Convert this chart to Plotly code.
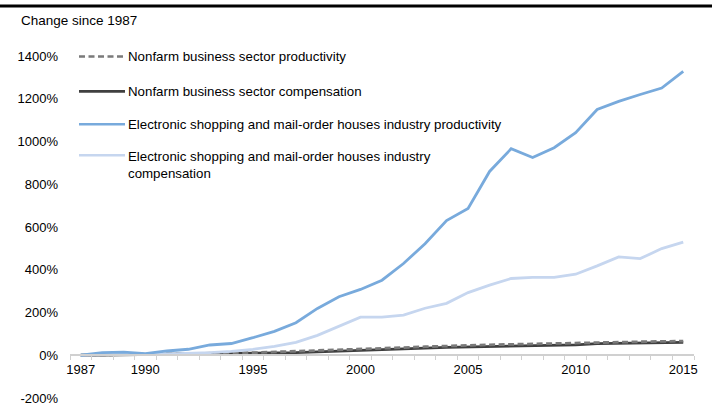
import plotly.graph_objects as go

years = list(range(1987, 2016))
nonfarm_productivity = [0, 2, 3, 4, 5, 8, 9, 11, 12, 15, 18, 21, 25, 28, 31, 36, 40, 44, 47, 49, 51, 53, 55, 60, 62, 63, 64, 65, 66]
nonfarm_compensation = [0, 1, 2, 3, 3, 4, 5, 6, 7, 9, 12, 16, 19, 21, 25, 29, 33, 37, 39, 41, 43, 45, 46, 49, 54, 56, 57, 58, 60]
eshop_productivity = [0, 12, 15, 8, 20, 28, 48, 55, 82, 112, 152, 219, 274, 308, 351, 429, 522, 630, 687, 860, 966, 925, 971, 1041, 1150, 1188, 1220, 1250, 1328]
eshop_compensation = [0, 2, 5, 3, 5, 8, 12, 18, 28, 42, 60, 93, 134, 178, 178, 188, 220, 243, 293, 328, 359, 364, 364, 379, 418, 460, 452, 499, 529]

names = ["Nonfarm business sector productivity",
         "Nonfarm business sector compensation",
         "Electronic shopping and mail-order houses industry productivity",
         "Electronic shopping and mail-order houses industry<br>compensation"]
series = [nonfarm_productivity, nonfarm_compensation, eshop_productivity, eshop_compensation]
colors = ["#7a7a7a", "#3f3f3f", "#78aadc", "#c6d6ef"]
dashes = ["6px,3.5px", "solid", "solid", "solid"]

y_ticks = [-200, 0, 200, 400, 600, 800, 1000, 1200, 1400]
x_ticks = [1987, 1990, 1995, 2000, 2005, 2010, 2015]

FONT = "Liberation Sans, Arial, sans-serif"

fig = go.Figure()
draw_order = [1, 0, 3, 2]
for i in draw_order:
    fig.add_trace(go.Scatter(x=years, y=series[i], mode="lines", name=names[i],
                             line=dict(color=colors[i], width=2.8, dash=dashes[i]),
                             showlegend=False, hoverinfo="skip"))

L, R, T, B = 70, 18, 55.5, 14.5
W, H = 712, 413
pw, ph = W - L - R, H - T - B

def px(x):
    return (x - L) / pw

def py(y):
    return (H - B - y) / ph

shapes = []
annotations = []
legend_rows = [56, 91, 124, 155]
for i, yy in enumerate(legend_rows):
    shapes.append(dict(type="line", xref="paper", yref="paper",
                       x0=px(79), x1=px(125), y0=py(yy), y1=py(yy),
                       line=dict(color=colors[i], width=2.6, dash=dashes[i])))
    yc = yy if i < 3 else yy + 10
    annotations.append(dict(text=names[i], xref="paper", yref="paper",
                            x=px(126), y=py(yc), xanchor="left", yanchor="middle",
                            showarrow=False, align="left",
                            font=dict(family=FONT, size=13.3, color="#000000")))

shapes.append(dict(type="line", xref="paper", yref="paper", x0=-L / pw, x1=(W - L) / pw,
                   y0=py(5.3), y1=py(5.3), line=dict(color="#000000", width=3)))
annotations.append(dict(text="Change since 1987", xref="paper", yref="paper",
                        x=px(19), y=py(20), xanchor="left", yanchor="middle", showarrow=False,
                        font=dict(family=FONT, size=13.5, color="#000000")))

fig.update_layout(
    width=W, height=H,
    margin=dict(l=L, r=R, t=T, b=B, autoexpand=False),
    paper_bgcolor="white", plot_bgcolor="white",
    font=dict(family=FONT, size=13, color="#000000"),
    shapes=shapes, annotations=annotations,
    xaxis=dict(range=[1986.5, 2015.5], tickmode="array", tickvals=x_ticks,
               ticks="", showgrid=False, zeroline=False, automargin=False,
               showline=True, linecolor="#d0d0d0", linewidth=1.5,
               anchor="free", position=200 / 1600,
               ticklabelstandoff=2,
               minor=dict(tickmode="linear", tick0=1986.5, dtick=1, ticks="outside",
                          ticklen=4, tickcolor="#d0d0d0", tickwidth=1, showgrid=False),
               tickfont=dict(size=13)),
    yaxis=dict(range=[-200, 1400], tickmode="array", tickvals=y_ticks,
               ticktext=[f"{v}%" for v in y_ticks], showgrid=False, zeroline=False,
               showline=False, ticks="", ticklabelstandoff=11, automargin=False,
               tickfont=dict(size=13)),
)

fig.write_html("out.html", config={"displayModeBar": False},
               post_script="document.body.style.margin='0';document.body.style.padding='0';")
